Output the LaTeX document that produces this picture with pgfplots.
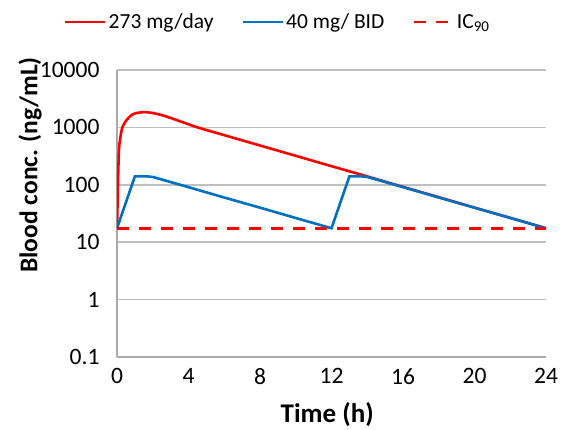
\documentclass[border=0pt]{standalone}
\usepackage{pgfplots}
\pgfplotsset{compat=1.18}
\usepackage{fontspec}
\setmainfont{Carlito}
\definecolor{myred}{RGB}{255,0,0}
\definecolor{myblue}{RGB}{0,112,192}
\definecolor{grid}{RGB}{170,170,170}
\begin{document}
\begin{tikzpicture}
\useasboundingbox (-117pt,-72pt) rectangle (445pt,357pt);
\begin{axis}[
  at={(0pt,0pt)}, anchor=south west,
  scale only axis, width=429pt, height=287pt,
  ymode=log, xmin=0, xmax=24, ymin=0.1, ymax=10000,
  xtick={0,4,...,24}, ytick={0.1,1,10,100,1000,10000},
  yticklabels={0.1,1,10,100,1000,10000},
  /pgf/number format/assume math mode=true,
  ticklabel style={font=\fontsize{23.5}{25}\selectfont},
  tick style={draw=none},
  ymajorgrids=true, xmajorgrids=false, grid style={grid, line width=1.6pt},
  axis x line*=bottom, axis y line*=left,
  axis line style={grid, line width=1.6pt, -},
  separate axis lines,
  yticklabel style={xshift=-14pt},
  xticklabel style={yshift=-8pt},
  xlabel={\textbf{Time (h)}}, ylabel={\textbf{Blood conc. (ng/mL)}},
  xlabel style={font=\fontsize{27}{30}\selectfont, at={(axis description cs:0.49,0)}, anchor=center, yshift=-58pt},
  ylabel style={font=\fontsize{25.5}{28}\selectfont, at={(axis description cs:0,0.669)}, anchor=center, yshift=87pt},
  legend columns=3,
  legend style={draw=none, fill=none, at={(0.375,1.167)}, anchor=center,
    font=\fontsize{21.5}{24}\selectfont, /tikz/every even column/.append style={column sep=26pt}},
  legend image code/.code={\draw[#1] (0pt,0pt) -- (40pt,0pt);},
]
\addplot[myred, line width=2.6pt, smooth, tension=0.4] coordinates {
(0,17.5) (0.1,350) (0.2,700) (0.3,1000) (0.5,1300) (0.75,1580) (1,1750) (1.5,1850) (2,1780) (2.5,1640) (3,1460) (4,1135) (4.5,1000)
(6,733) (8,484) (10,320) (12,211) (14,140) (16,92) (18,61) (20,40) (22,26.6) (24,17.5)};
\addlegendentry{273 mg/day}
\addplot[myblue, line width=2.6pt] coordinates {
(0,17.5) (1,140) (1.7,140) (2,137) (4,91) (6,60) (8,40) (10,26.4) (12,17.5)
(13,140) (13.7,140) (14,137) (16,91) (18,60) (20,40) (22,26.4) (24,17.5)};
\addlegendentry{40 mg/ BID}
\addplot[myred, line width=2.6pt, dash pattern=on 12pt off 10pt] coordinates {(0,17.5) (24,17.5)};
\addlegendentry{IC\textsubscript{90}}
\end{axis}
\end{tikzpicture}
\end{document}
